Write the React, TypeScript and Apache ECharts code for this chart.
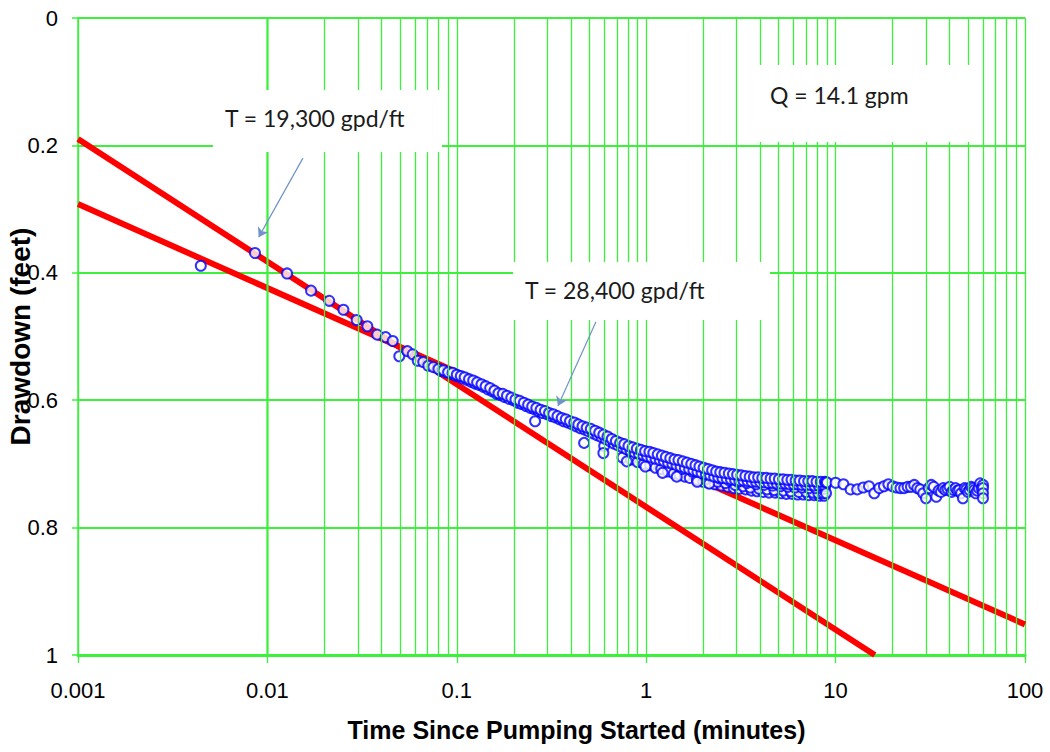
import React, { useEffect, useRef } from 'react';
import * as echarts from 'echarts';

// ---- Data (time in minutes, drawdown in feet) ----
const xTickLabels = ['0.001', '0.01', '0.1', '1', '10', '100'];

const earlyPoints: [number, number][] = [
  [0.00445, 0.389], [0.0086, 0.369], [0.0127, 0.401], [0.017, 0.428], [0.0212, 0.444],
  [0.0252, 0.458], [0.0296, 0.474], [0.0337, 0.484], [0.038, 0.497], [0.0421, 0.501],
  [0.0459, 0.507], [0.0497, 0.531], [0.0548, 0.523], [0.0585, 0.528], [0.0622, 0.538],
  [0.0665, 0.54], [0.0707, 0.546], [0.0752, 0.548],
];

const bandUpper: [number, number][] = [
  [0.08, 0.551], [0.085, 0.553], [0.09, 0.556], [0.095, 0.557], [0.1, 0.56], [0.105, 0.562],
  [0.11, 0.564], [0.116, 0.567], [0.122, 0.569], [0.128, 0.572], [0.135, 0.575], [0.142, 0.578],
  [0.15, 0.581], [0.158, 0.585], [0.166, 0.589], [0.175, 0.59], [0.184, 0.593], [0.194, 0.596],
  [0.204, 0.599], [0.215, 0.601], [0.226, 0.604], [0.238, 0.607], [0.25, 0.61], [0.263, 0.612],
  [0.277, 0.615], [0.292, 0.617], [0.307, 0.62], [0.323, 0.622], [0.34, 0.625], [0.358, 0.628],
  [0.376, 0.63], [0.396, 0.633], [0.417, 0.635], [0.438, 0.638], [0.461, 0.641], [0.485, 0.643],
  [0.51, 0.645], [0.537, 0.648], [0.565, 0.651], [0.594, 0.654], [0.625, 0.657], [0.658, 0.661],
  [0.692, 0.664], [0.728, 0.667], [0.766, 0.669], [0.806, 0.672], [0.848, 0.674], [0.892, 0.676],
  [0.938, 0.678], [0.987, 0.68], [1.04, 0.681], [1.09, 0.683], [1.15, 0.685], [1.21, 0.687],
  [1.27, 0.689], [1.34, 0.691], [1.41, 0.693], [1.48, 0.694], [1.56, 0.696], [1.64, 0.698],
  [1.73, 0.7], [1.82, 0.702], [1.91, 0.704], [2.01, 0.706], [2.12, 0.708], [2.23, 0.71],
  [2.34, 0.712], [2.46, 0.713], [2.59, 0.714], [2.73, 0.715], [2.87, 0.716], [3.02, 0.717],
  [3.18, 0.718], [3.34, 0.719], [3.52, 0.72], [3.7, 0.721], [3.9, 0.721], [4.1, 0.722],
  [4.31, 0.722], [4.54, 0.723], [4.77, 0.723], [5.02, 0.724], [5.28, 0.724], [5.56, 0.725],
  [5.85, 0.725], [6.15, 0.726], [6.47, 0.726], [6.81, 0.727], [7.17, 0.727], [7.54, 0.727],
  [7.93, 0.728], [8.35, 0.728], [8.78, 0.728],
];

// second pass of readings interleaved with the upper edge (slightly deeper)
const bandUpper2: [number, number][] = [
  [0.0825, 0.554], [0.0875, 0.556], [0.0925, 0.558], [0.0975, 0.561], [0.1025, 0.563],
  [0.1075, 0.566], [0.113, 0.568], [0.119, 0.571], [0.125, 0.574], [0.131, 0.576],
  [0.138, 0.579], [0.146, 0.583], [0.154, 0.586], [0.162, 0.59], [0.17, 0.592],
  [0.179, 0.595], [0.189, 0.598], [0.199, 0.6], [0.21, 0.604], [0.22, 0.606],
  [0.232, 0.609], [0.244, 0.612], [0.256, 0.614], [0.27, 0.617], [0.284, 0.62],
  [0.3, 0.622], [0.315, 0.625], [0.331, 0.627], [0.349, 0.63], [0.367, 0.633],
  [0.386, 0.635], [0.406, 0.638], [0.427, 0.641], [0.45, 0.644], [0.473, 0.646],
  [0.497, 0.649], [0.523, 0.652], [0.551, 0.655], [0.58, 0.658], [0.61, 0.661],
  [0.641, 0.664], [0.675, 0.668], [0.71, 0.671], [0.747, 0.674], [0.786, 0.677],
  [0.827, 0.68], [0.87, 0.682], [0.915, 0.684], [0.962, 0.686], [1.01, 0.688],
  [1.065, 0.69], [1.12, 0.692], [1.18, 0.694], [1.24, 0.696], [1.305, 0.698],
  [1.375, 0.7], [1.445, 0.702], [1.52, 0.704], [1.6, 0.706], [1.685, 0.708],
  [1.775, 0.71], [1.865, 0.712], [1.96, 0.714], [2.065, 0.716], [2.175, 0.718],
  [2.285, 0.72], [2.4, 0.721], [2.525, 0.722], [2.66, 0.723], [2.8, 0.724],
  [2.945, 0.725], [3.1, 0.726], [3.26, 0.726], [3.43, 0.727], [3.61, 0.728],
  [3.8, 0.728], [4.0, 0.729], [4.2, 0.729], [4.42, 0.73], [4.65, 0.73],
  [4.9, 0.731], [5.15, 0.731], [5.42, 0.731], [5.7, 0.732], [6.0, 0.732],
  [6.3, 0.732], [6.64, 0.733], [6.99, 0.733], [7.35, 0.733], [7.73, 0.734],
  [8.14, 0.734], [8.56, 0.734], [8.8, 0.735],
];

const bandMiddle: [number, number][] = [
  [1.55, 0.708], [1.75, 0.712], [1.95, 0.716], [2.2, 0.72], [2.45, 0.723], [2.75, 0.726],
  [3.05, 0.728], [3.4, 0.73], [3.8, 0.732], [4.2, 0.733], [4.65, 0.734], [5.1, 0.735],
  [5.6, 0.736], [6.1, 0.737], [6.65, 0.737], [7.25, 0.738], [7.85, 0.738], [8.5, 0.739],
  [8.75, 0.739],
];

const bandLower: [number, number][] = [
  [0.6, 0.672], [0.75, 0.69], [0.83, 0.693], [0.9, 0.697], [0.97, 0.7], [1.05, 0.702],
  [1.12, 0.706], [1.2, 0.708], [1.3, 0.712], [1.4, 0.715], [1.5, 0.717], [1.6, 0.72],
  [1.7, 0.722], [1.85, 0.725], [2.0, 0.728], [2.15, 0.73], [2.3, 0.732], [2.5, 0.734],
  [2.7, 0.736], [2.9, 0.738], [3.1, 0.739], [3.35, 0.74], [3.6, 0.742], [3.85, 0.743],
  [4.15, 0.744], [4.45, 0.745], [4.8, 0.745], [5.15, 0.746], [5.5, 0.747], [5.9, 0.747],
  [6.3, 0.748], [6.75, 0.748], [7.2, 0.749], [7.7, 0.749], [8.2, 0.75], [8.7, 0.75],
];

const bandLower2: [number, number][] = [
  [2.05, 0.724], [2.38, 0.728], [2.62, 0.73], [2.95, 0.733], [3.25, 0.735], [3.55, 0.737],
  [3.95, 0.739], [4.35, 0.74], [4.75, 0.741], [5.3, 0.742], [5.8, 0.743], [6.4, 0.744],
  [7.0, 0.744], [7.6, 0.745], [8.1, 0.746], [8.6, 0.746],
];

const outliers: [number, number][] = [
  [0.259, 0.633], [0.47, 0.667], [0.594, 0.683], [0.79, 0.696], [0.99, 0.704],
  [1.22, 0.714], [1.45, 0.72], [1.86, 0.728], [2.15, 0.731],
];

const latePoints: [number, number][] = [
  [8.9, 0.729], [8.9, 0.746], [9, 0.729], [10, 0.7295], [11, 0.732], [12, 0.74], [13, 0.74],
  [14, 0.737], [15, 0.735], [16, 0.746], [17, 0.738], [18, 0.735], [19, 0.732], [20, 0.735],
  [21, 0.737], [22, 0.738], [23, 0.738], [24, 0.736], [25, 0.736], [26, 0.733], [27, 0.738],
  [28, 0.74], [29, 0.746], [30, 0.754], [31, 0.738], [32, 0.733], [33, 0.736], [34, 0.7515],
  [35, 0.742], [36, 0.744], [37, 0.738], [38, 0.741], [39, 0.739], [40, 0.736], [41, 0.744],
  [42, 0.741], [43, 0.738], [44, 0.742], [45, 0.741], [46, 0.746], [47, 0.754], [48, 0.738],
  [49, 0.74], [50, 0.744], [51, 0.741], [52, 0.736], [53, 0.738], [54, 0.741], [55, 0.746],
  [56, 0.742], [57, 0.738], [58, 0.7305], [59, 0.738], [60, 0.733], [60, 0.738], [60, 0.746],
  [60, 0.754],
];

// Straight-line (Cooper-Jacob) fits
const fitSteep: [number, number][] = [[0.001, 0.19], [16.1, 1.0]]; // T = 19,300 gpd/ft
const fitFlat: [number, number][] = [[0.001, 0.292], [100, 0.952]]; // T = 28,400 gpd/ft

// Annotation arrows (start = near label, end = arrow tip), data coords
const arrow1: [number, number][] = [[0.0154, 0.22], [0.009, 0.344]];
const arrow2: [number, number][] = [[0.543, 0.477], [0.342, 0.609]];

const GREEN = '#3cf03c';

export default function App() {
  const ref = useRef<HTMLDivElement>(null);
  useEffect(() => {
    document.body.style.margin = '0';
    const chart = echarts.init(ref.current!, null, { renderer: 'svg' });

    const minorVals: number[] = [];
    for (let e = -3; e < 2; e++) {
      for (let k = 2; k <= 9; k++) minorVals.push(Number((k * Math.pow(10, e)).toPrecision(3)));
    }

    const allPoints = [
      ...earlyPoints, ...bandLower, ...bandLower2, ...bandMiddle, ...outliers,
      ...bandUpper2, ...bandUpper, ...latePoints,
    ];

    const labelFont = "'Liberation Sans', Arial, sans-serif";
    const annFont = "Lato, 'Open Sans', sans-serif";

    chart.setOption({
      animation: false,
      backgroundColor: '#ffffff',
      grid: { left: 78, right: 25, top: 18, bottom: 97, containLabel: false, outerBoundsMode: 'none' },
      xAxis: {
        type: 'log',
        logBase: 10,
        min: 0.001,
        max: 100,
        name: 'Time Since Pumping Started (minutes)',
        nameLocation: 'middle',
        nameGap: 62,
        nameMoveOverlap: false,
        nameTextStyle: {
          fontFamily: labelFont, fontWeight: 'bold', fontSize: 25, color: '#000',
          padding: [0, 0, 0, 50],
        },
        axisLine: { show: true, onZero: false, lineStyle: { color: GREEN, width: 3 } },
        axisTick: { show: true, length: 8, inside: false, lineStyle: { color: GREEN, width: 1.3 } },
        axisLabel: {
          margin: 24, fontFamily: labelFont, fontSize: 22, color: '#000',
          formatter: (v: number) => {
            const i = Math.round(Math.log10(v)) + 3;
            return xTickLabels[i] ?? '';
          },
        },
        splitLine: { show: true, lineStyle: { color: GREEN, width: 1.3 } },
        minorTick: { show: false },
        minorSplitLine: { show: false },
      },
      yAxis: {
        type: 'value',
        inverse: true,
        min: 0,
        max: 1,
        interval: 0.2,
        name: 'Drawdown (feet)',
        nameLocation: 'middle',
        nameRotate: 90,
        nameGap: 44,
        nameMoveOverlap: false,
        nameTextStyle: { fontFamily: labelFont, fontWeight: 'bold', fontSize: 28, color: '#000' },
        axisLine: { show: true, lineStyle: { color: GREEN, width: 1.5 } },
        axisTick: { show: true, length: 6, lineStyle: { color: GREEN, width: 1.5 } },
        axisLabel: { margin: 20, fontFamily: labelFont, fontSize: 22, color: '#000' },
        splitLine: { show: true, lineStyle: { color: GREEN, width: 2 } },
      },
      series: [
        {
          name: 'minor-grid',
          type: 'line',
          data: [],
          z: 1,
          silent: true,
          markLine: {
            silent: true,
            symbol: ['none', 'none'],
            label: { show: false },
            lineStyle: { color: GREEN, width: 1.3, type: 'solid' },
            emphasis: { disabled: true },
            data: minorVals.map((v) => ({ xAxis: v })),
          },
        },
        {
          name: 'T = 19,300 gpd/ft',
          type: 'line',
          data: fitSteep,
          z: 3,
          showSymbol: false,
          silent: true,
          lineStyle: { color: '#ff0000', width: 6 },
        },
        {
          name: 'T = 28,400 gpd/ft',
          type: 'line',
          data: fitFlat,
          z: 3,
          showSymbol: false,
          silent: true,
          lineStyle: { color: '#ff0000', width: 6 },
        },
        {
          name: 'Drawdown',
          type: 'scatter',
          data: allPoints,
          z: 4,
          symbol: 'circle',
          symbolSize: 10,
          silent: true,
          itemStyle: { color: '#ffffff', borderColor: '#0000ff', borderWidth: 2 },
        },
        {
          name: 'arrows',
          type: 'line',
          data: [],
          z: 6,
          silent: true,
          markLine: {
            silent: true,
            symbol: ['none', 'arrow'],
            symbolSize: 9,
            label: { show: false },
            lineStyle: { color: '#7094c8', width: 1.2, type: 'solid' },
            emphasis: { disabled: true },
            data: [
              [{ coord: arrow1[0] }, { coord: arrow1[1] }],
              [{ coord: arrow2[0] }, { coord: arrow2[1] }],
            ],
          },
        },
      ],
      graphic: [
        {
          type: 'group',
          z: 10,
          children: [
            { type: 'rect', shape: { x: 213, y: 90, width: 229, height: 62 }, style: { fill: '#fff' }, z: 10 },
            {
              type: 'text', x: 225, y: 118, z: 11,
              style: { text: 'T = 19,300 gpd/ft', fontFamily: annFont, fontSize: 23, fill: '#1b1b1b', verticalAlign: 'middle' },
            },
            { type: 'rect', shape: { x: 513, y: 262, width: 257, height: 58 }, style: { fill: '#fff' }, z: 10 },
            {
              type: 'text', x: 525, y: 290, z: 11,
              style: { text: 'T = 28,400 gpd/ft', fontFamily: annFont, fontSize: 23, fill: '#1b1b1b', verticalAlign: 'middle' },
            },
            { type: 'rect', shape: { x: 748, y: 65, width: 227, height: 77 }, style: { fill: '#fff' }, z: 10 },
            {
              type: 'text', x: 770, y: 95, z: 11,
              style: { text: 'Q = 14.1 gpm', fontFamily: annFont, fontSize: 23, fill: '#1b1b1b', verticalAlign: 'middle' },
            },
          ],
        },
      ],
    });
    return () => chart.dispose();
  }, []);
  return <div ref={ref} style={{ width: 1050, height: 752 }} />;
}
